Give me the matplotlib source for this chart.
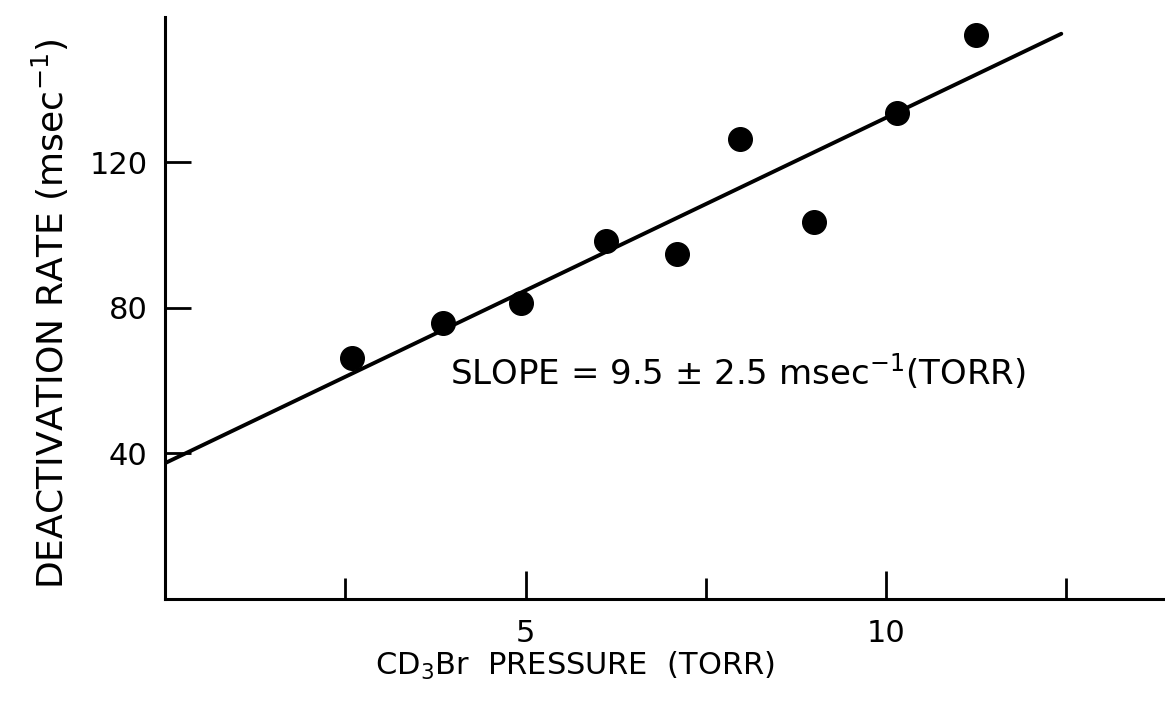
import matplotlib
matplotlib.use("Agg")
import matplotlib.pyplot as plt
from matplotlib.ticker import FixedLocator

# Data
pressure = [2.59, 3.85, 4.94, 6.12, 7.10, 7.98, 9.00, 10.16, 11.26]
rate = [66.1, 75.7, 81.2, 98.5, 94.7, 126.5, 103.7, 133.7, 155.1]
fit_x = [0.0, 12.44]
fit_y = [37.3, 155.4]
x_major = [5, 10]
x_minor = [2.5, 7.5, 12.5]
y_major = [40, 80, 120]
x_labels = ["5", "10"]
y_labels = ["40", "80", "120"]

plt.rcParams['font.family'] = ['DejaVu Sans']
plt.rcParams['mathtext.fontset'] = 'dejavusans'

fig = plt.figure(figsize=(11.65, 7.1), dpi=100)
ax = fig.add_axes([0.142, 0.157, 0.858, 0.819])

ax.plot(fit_x, fit_y, color='black', lw=2.8, solid_capstyle='round', zorder=2)
ax.plot(pressure, rate, 'o', color='black', ms=17, zorder=3)

ax.set_xlim(0, 13.88)
ax.set_ylim(0, 160)

for s in ['top', 'right']:
    ax.spines[s].set_visible(False)
for s in ['left', 'bottom']:
    ax.spines[s].set_linewidth(2.2)

ax.xaxis.set_major_locator(FixedLocator(x_major))
ax.xaxis.set_minor_locator(FixedLocator(x_minor))
ax.set_xticklabels(x_labels)
ax.yaxis.set_major_locator(FixedLocator(y_major))
ax.set_yticklabels(y_labels)

ax.tick_params(axis='x', which='major', direction='in', length=20, width=2.0,
               labelsize=22, pad=15)
ax.tick_params(axis='x', which='minor', direction='in', length=15, width=2.0)
ax.tick_params(axis='y', which='major', direction='in', length=19, width=2.0,
               labelsize=22, pad=13)

ax.set_xlabel("CD$_3$Br  PRESSURE  (TORR)", fontsize=22)
ax.xaxis.set_label_coords(0.41, -0.088)
ax.set_ylabel("DEACTIVATION RATE (msec$^{-1}$)", fontsize=26)
ax.yaxis.set_label_coords(-0.094, 0.49)

ax.text(3.95, 62.5, "SLOPE = 9.5 $\\pm$ 2.5 msec$^{-1}$(TORR)", fontsize=24.5,
        ha='left', va='center')

fig.savefig("out.png", dpi=100, facecolor='white')
